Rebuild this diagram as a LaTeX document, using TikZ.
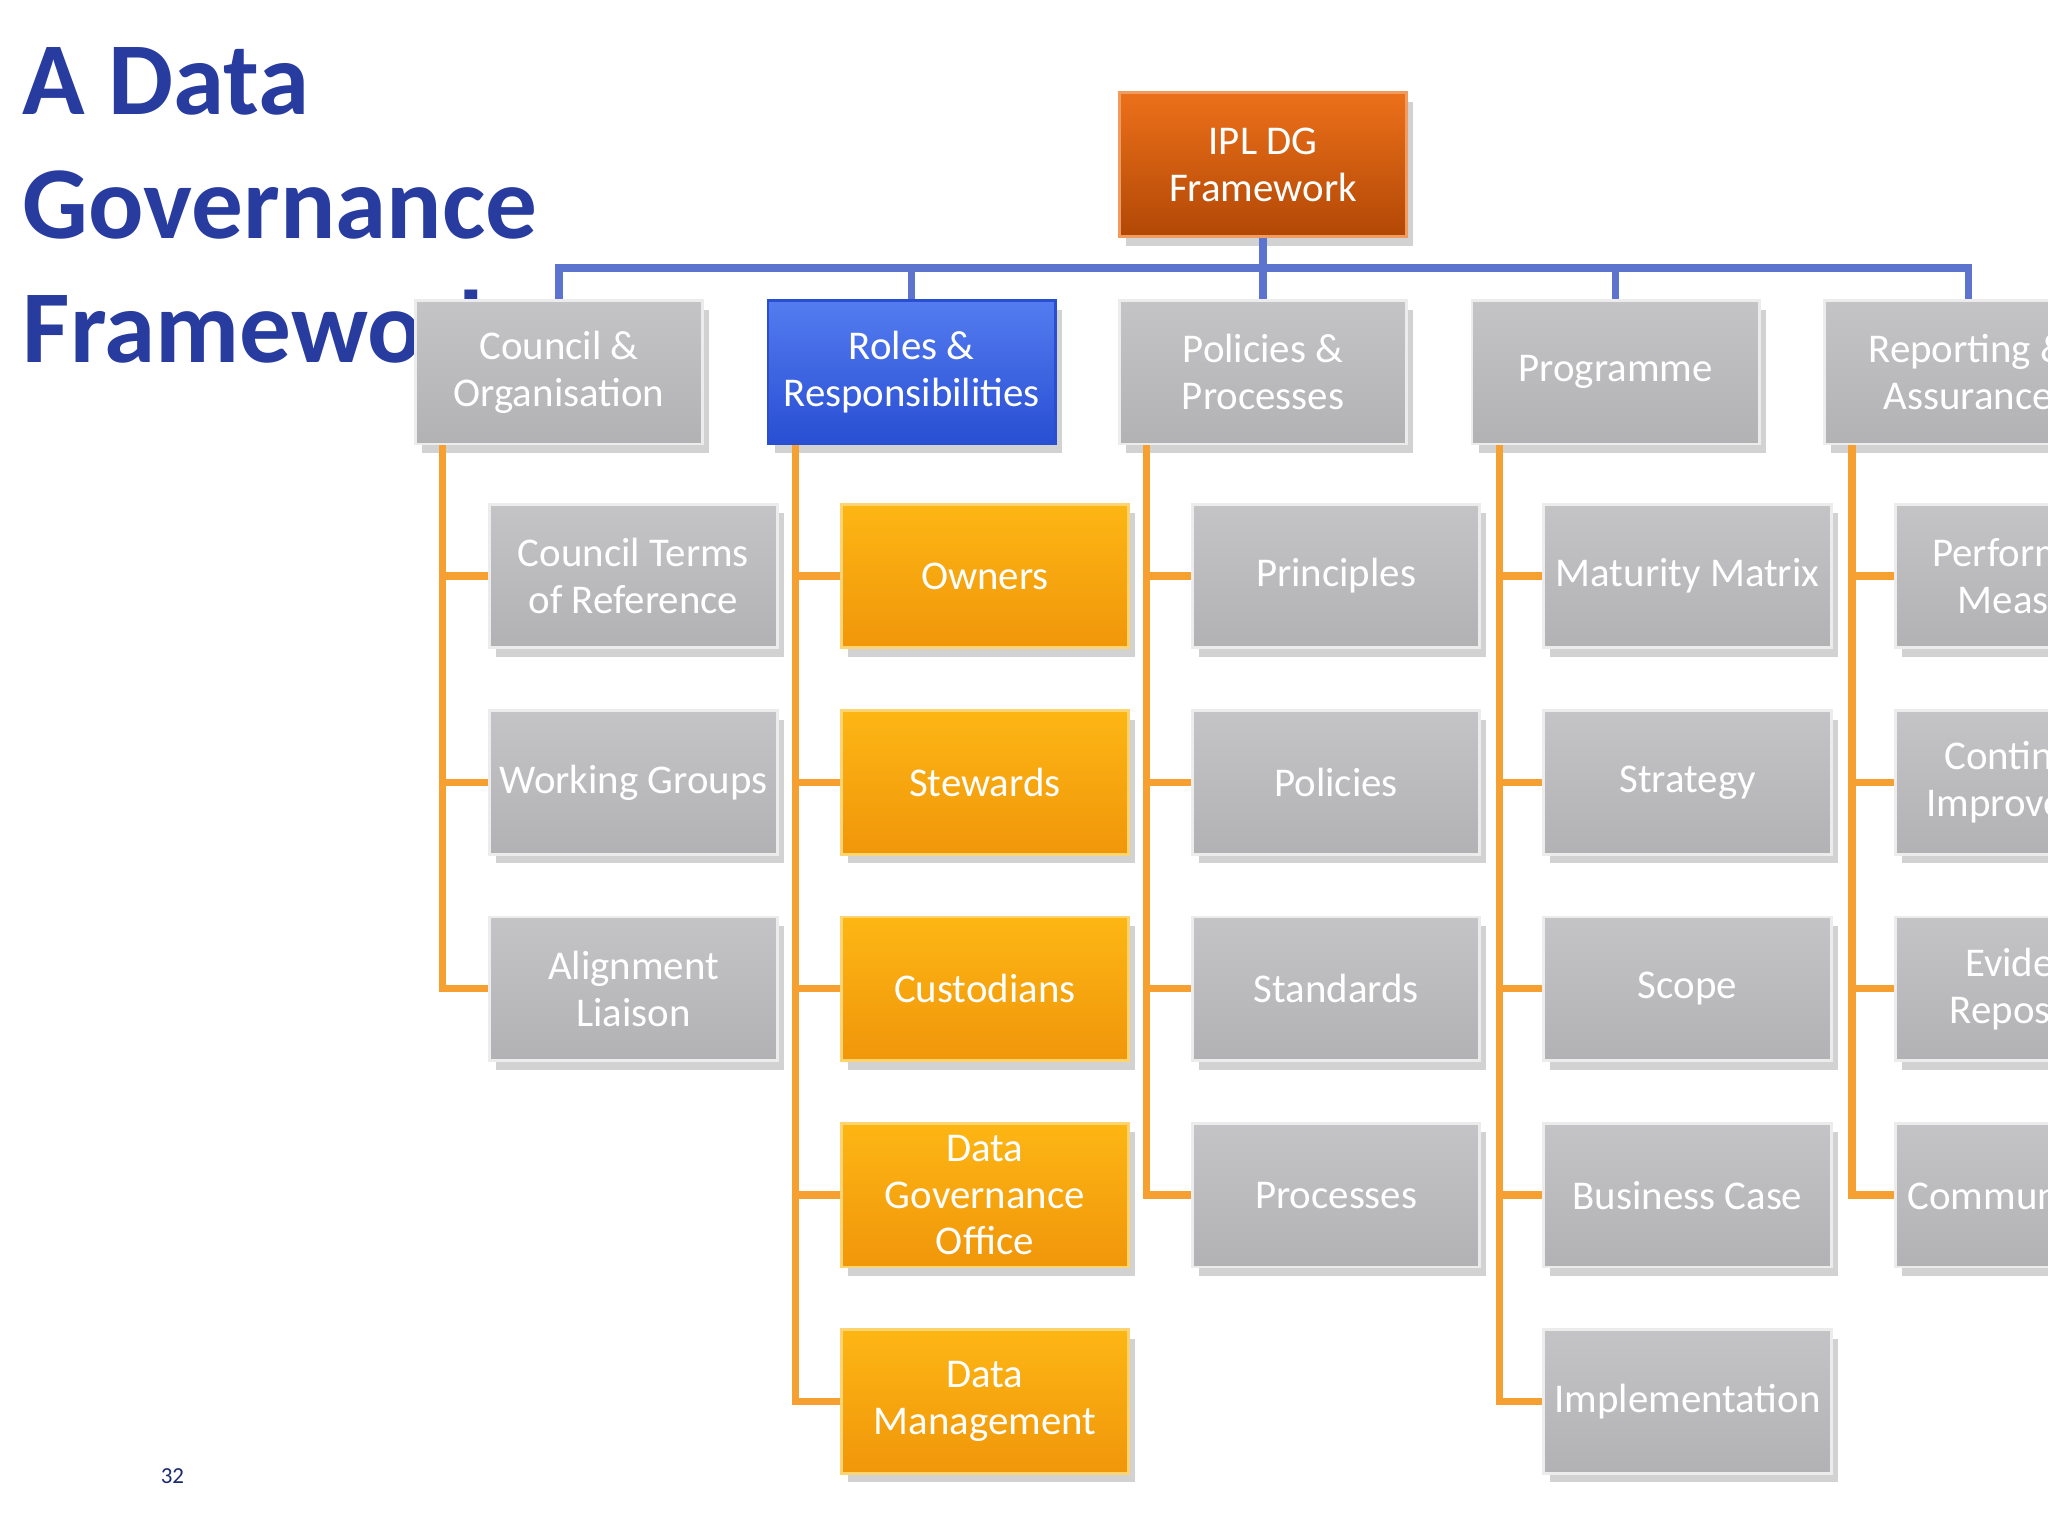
\documentclass[tikz,border=0pt]{standalone}
\usepackage{fontspec}
\setmainfont{Carlito}
\usetikzlibrary{shadows,calc}
\definecolor{gtop}{RGB}{196,196,198}
\definecolor{gbot}{RGB}{178,178,180}
\definecolor{otop}{RGB}{253,182,20}
\definecolor{obot}{RGB}{240,150,10}
\definecolor{btop}{RGB}{84,124,240}
\definecolor{bbot}{RGB}{40,78,210}
\definecolor{rtop}{RGB}{236,112,26}
\definecolor{rbot}{RGB}{178,72,6}
\definecolor{titleblue}{RGB}{40,60,160}
\definecolor{bline}{RGB}{92,116,205}
\definecolor{oline}{RGB}{247,160,50}
\begin{document}
\begin{tikzpicture}[x=0.1mm,y=-0.1mm,
 box/.style={draw=white!85!gray, line width=0.6pt, minimum width=22mm, minimum height=11mm, text=white, align=center, font=\fontsize{8.9}{10.2}\selectfont, drop shadow={shadow xshift=0.5mm, shadow yshift=-0.7mm, opacity=0.35}, inner sep=1pt},
 g/.style={box, top color=gtop, bottom color=gbot},
 o/.style={box, top color=otop, bottom color=obot, draw=otop!60!white},
 b/.style={box, top color=btop, bottom color=bbot, draw=bbot},
 r/.style={box, top color=rtop, bottom color=rbot, draw=rtop!70!white},
 bl/.style={draw=bline, line width=1.6pt},
 ol/.style={draw=oline, line width=1.6pt},
 title/.style={anchor=west, text=titleblue, font=\fontsize{22.5}{26}\selectfont\bfseries}]
\clip (0,0) rectangle (1568,1176);
\fill[white] (0,0) rectangle (1568,1176);
\node[title] (t1) at (5,62) {A Data};
\node[title] (t2) at (5,157) {Governance};
\node[title] (t3) at (5,250) {Framework};
\node[font=\fontsize{5}{6}\selectfont, text=titleblue!70!black] (pg) at (132,1130) {32};

\node[r] (top) at (967,126) {IPL DG\\Framework};
\node[g] (c) at (428,285) {Council \&\\Organisation};
\node[b] (rr) at (698,285) {Roles \&\\Responsibilities};
\node[g] (p) at (967,285) {Policies \&\\Processes};
\node[g] (pr) at (1237,285) {Programme};
\node[g] (ra) at (1507,285) {Reporting \&\\Assurance};
\foreach \n in {c,rr,p,pr,ra} \draw[bl] (top.south) -- ++(0,23) -| (\n.north);

\node[g] (c1) at (485,441) {Council Terms\\of Reference};
\node[g] (c2) at (485,599) {Working Groups};
\node[g] (c3) at (485,757) {Alignment\\Liaison};
\node[o] (r1) at (754,441) {Owners};
\node[o] (r2) at (754,599) {Stewards};
\node[o] (r3) at (754,757) {Custodians};
\node[o] (r4) at (754,915) {Data\\Governance\\Office};
\node[o] (r5) at (754,1073) {Data\\Management};
\node[g] (p1) at (1023,441) {Principles};
\node[g] (p2) at (1023,599) {Policies};
\node[g] (p3) at (1023,757) {Standards};
\node[g] (p4) at (1023,915) {Processes};
\node[g] (g1) at (1292,441) {Maturity Matrix};
\node[g] (g2) at (1292,599) {Strategy};
\node[g] (g3) at (1292,757) {Scope};
\node[g] (g4) at (1292,915) {Business Case};
\node[g] (g5) at (1292,1073) {Implementation};
\node[g] (a1) at (1561,441) {Performance\\Measures};
\node[g] (a2) at (1561,599) {Continuous\\Improvement};
\node[g] (a3) at (1561,757) {Evidence\\Repository};
\node[g] (a4) at (1561,915) {Communication};

\foreach \pp/\kids in {c/{c1,c2,c3}, rr/{r1,r2,r3,r4,r5}, p/{p1,p2,p3,p4}, pr/{g1,g2,g3,g4,g5}, ra/{a1,a2,a3,a4}}
  \foreach \k in \kids \draw[ol] ($(\pp.south west)+(22,0)$) |- (\k.west);
\end{tikzpicture}
\end{document}
